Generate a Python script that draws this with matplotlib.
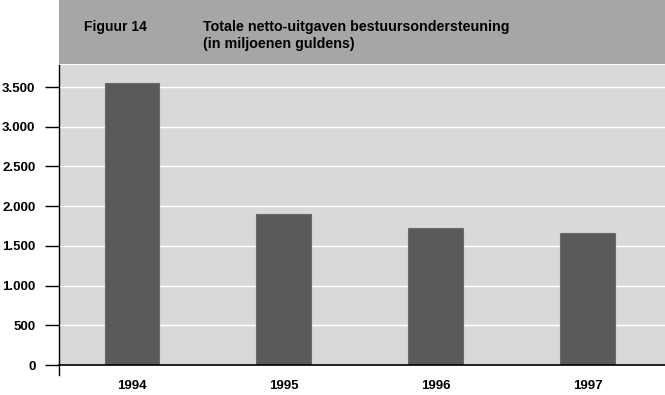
import matplotlib
matplotlib.use("Agg")
import matplotlib.pyplot as plt
from matplotlib.patches import Rectangle
from matplotlib.lines import Line2D

years = ["1994", "1995", "1996", "1997"]
values = [3550, 1900, 1725, 1660]
yticks = [0, 500, 1000, 1500, 2000, 2500, 3000, 3500]
ytick_labels = ["0", "500", "1.000", "1.500", "2.000", "2.500", "3.000", "3.500"]
fig_label = "Figuur 14"
title_line1 = "Totale netto-uitgaven bestuursondersteuning"
title_line2 = "(in miljoenen guldens)"

plt.rcParams['font.family'] = ['Liberation Sans', 'DejaVu Sans']

W, H = 665, 395
fig = plt.figure(figsize=(W / 100, H / 100), dpi=100)
fig.patch.set_facecolor("white")

# header band
fig.patches.append(Rectangle((59 / W, 1 - 64 / H), 1 - 59 / W, 64 / H,
                             transform=fig.transFigure, facecolor="#a6a6a6",
                             edgecolor="none", zorder=0))
fig.text(84 / W, 1 - 27 / H, fig_label, fontsize=10, fontweight="bold",
         va="center", ha="left")
fig.text(203 / W, 1 - 27 / H, title_line1, fontsize=10.3, fontweight="bold",
         va="center", ha="left")
fig.text(203 / W, 1 - 44 / H, title_line2, fontsize=10.3, fontweight="bold",
         va="center", ha="left")

ax = fig.add_axes([59 / W, 1 - 365 / H, 1 - 59 / W, 300 / H])
ax.set_facecolor("#d9d9d9")
ax.set_xlim(-0.48, 3.51)
ax.set_ylim(0, 3778)

ax.set_yticks(yticks)
ax.set_yticklabels(ytick_labels, fontsize=9.5, fontweight="bold")
ax.yaxis.grid(True, color="white", linewidth=1)
ax.set_axisbelow(True)
ax.tick_params(axis="y", length=10, width=1, direction="out", pad=7)

x = list(range(len(years)))
ax.bar(x, values, width=0.36, color="#5a5a5a", edgecolor="#6a6a6a",
       linewidth=0.8, zorder=3)
ax.set_xticks(x)
ax.set_xticklabels(years, fontsize=9.5, fontweight="bold")
ax.tick_params(axis="x", length=0, pad=11)

for s in ["top", "right"]:
    ax.spines[s].set_visible(False)
ax.spines["bottom"].set_color("black")
ax.spines["bottom"].set_linewidth(1.2)
ax.spines["left"].set_color("black")
ax.spines["left"].set_linewidth(1)
ax.spines["bottom"].set_zorder(4)

# left axis line extends below zero
ax.add_line(Line2D([0, 0], [0, -10 / 300], transform=ax.transAxes,
                   color="black", linewidth=1, clip_on=False))

fig.savefig("out.png", dpi=100)
